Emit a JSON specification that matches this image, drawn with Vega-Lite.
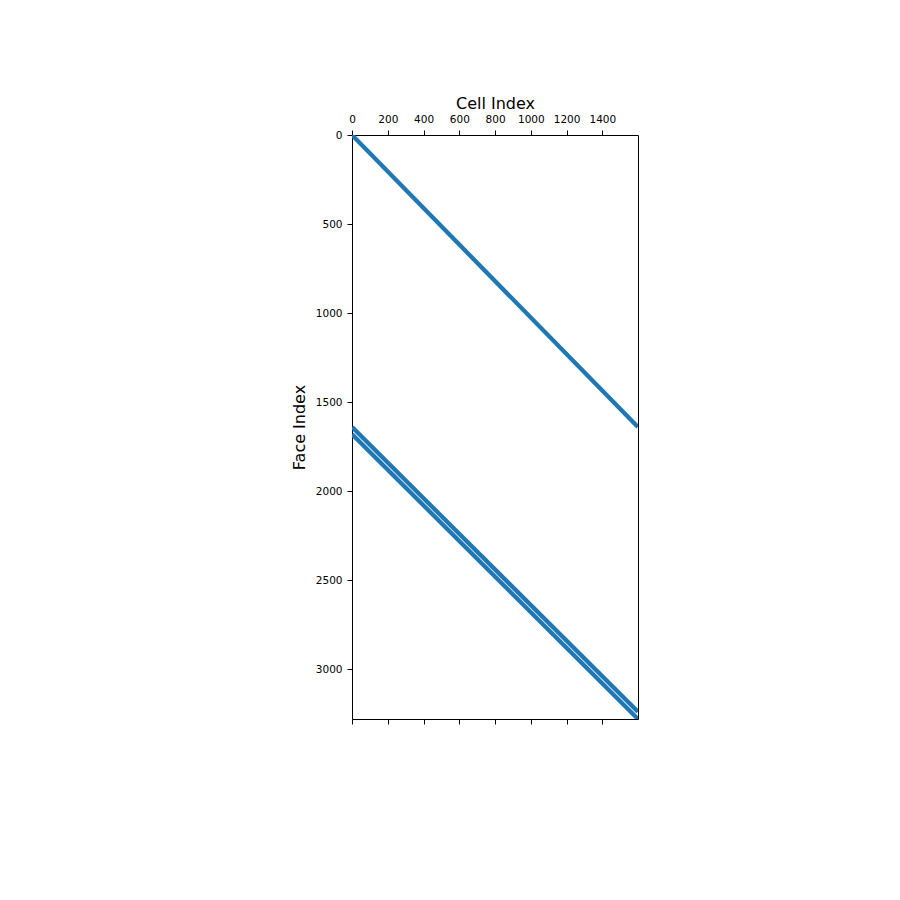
{
  "$schema": "https://vega.github.io/schema/vega-lite/v6.json",
  "autosize": {"type": "none"},
  "padding": {"left": 352, "top": 135, "right": 262, "bottom": 181},
  "width": 286,
  "height": 584,
  "background": "white",
  "config": {
    "view": {"stroke": "black", "strokeWidth": 1},
    "axis": {
      "labelFont": "DejaVu Sans",
      "labelFontSize": 10.5,
      "labelColor": "black",
      "labelFlush": false,
      "format": "d",
      "titleFont": "DejaVu Sans",
      "titleFontSize": 16,
      "titleFontWeight": "normal",
      "titleColor": "black",
      "tickColor": "black",
      "tickSize": 5,
      "tickWidth": 1,
      "domain": false,
      "grid": false
    }
  },
  "data": {
    "values": [
      {"block": "x-faces", "cell0": 0, "face0": 0, "cell1": 1599, "face1": 1639},
      {"block": "y-faces (lower cell)", "cell0": 0, "face0": 1640, "cell1": 1599, "face1": 3239},
      {"block": "y-faces (upper cell)", "cell0": 0, "face0": 1680, "cell1": 1599, "face1": 3279}
    ]
  },
  "layer": [
    {
      "mark": {"type": "rule", "color": "#1f77b4", "strokeWidth": 4.3, "clip": true},
      "encoding": {
        "x": {
          "field": "cell0", "type": "quantitative",
          "scale": {"domain": [-0.5, 1599.5], "nice": false, "zero": false},
          "axis": {"orient": "top", "title": "Cell Index", "values": [0, 200, 400, 600, 800, 1000, 1200, 1400], "labelPadding": 6, "titlePadding": 3}
        },
        "x2": {"field": "cell1"},
        "y": {
          "field": "face0", "type": "quantitative",
          "scale": {"domain": [-0.5, 3279.5], "nice": false, "zero": false, "reverse": true},
          "axis": {"orient": "left", "title": "Face Index", "values": [0, 500, 1000, 1500, 2000, 2500, 3000], "labelPadding": 5, "titlePadding": 8}
        },
        "y2": {"field": "face1"}
      }
    },
    {
      "mark": {"type": "rule", "opacity": 0, "clip": true},
      "encoding": {
        "x": {
          "field": "cell0", "type": "quantitative",
          "scale": {"domain": [-0.5, 1599.5], "nice": false, "zero": false},
          "axis": {"orient": "bottom", "title": null, "labels": false, "values": [0, 200, 400, 600, 800, 1000, 1200, 1400]}
        },
        "x2": {"field": "cell1"},
        "y": {"field": "face0", "type": "quantitative"},
        "y2": {"field": "face1"}
      }
    }
  ],
  "resolve": {"axis": {"x": "independent"}}
}
